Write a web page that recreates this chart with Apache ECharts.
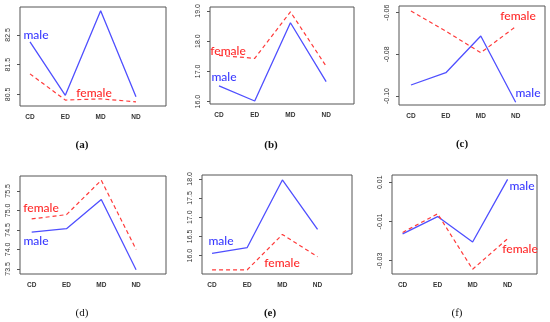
<!DOCTYPE html>
<html><head><meta charset="utf-8">
<script src="https://cdn.jsdelivr.net/npm/echarts@6/dist/echarts.min.js"></script>
<style>html,body{margin:0;padding:0;background:#fff}#c{width:550px;height:322px}</style>
</head><body><div id="c"></div>
<script>
const categories = ['CD', 'ED', 'MD', 'ND'];
const maleA = [82.27, 80.47, 83.31, 80.42];
const femaleA = [81.19, 80.31, 80.35, 80.25];
const maleB = [16.52, 16.02, 18.61, 16.66];
const femaleB = [17.53, 17.43, 18.97, 17.17];
const maleC = [-0.0947, -0.0888, -0.0712, -0.1030];
const femaleC = [-0.0592, -0.0689, -0.0792, -0.0667];
const maleD = [74.44, 74.53, 75.28, 73.48];
const femaleD = [74.78, 74.89, 75.77, 74.00];
const maleE = [16.06, 16.21, 17.97, 16.68];
const femaleE = [15.63, 15.63, 16.55, 15.97];
const maleF = [-0.0163, -0.0075, -0.0205, 0.0115];
const femaleF = [-0.0156, -0.0061, -0.0344, -0.0188];
const ticksA = [80.5, 81.5, 82.5];
const ticksB = [16, 17, 18, 19];
const ticksC = [-0.10, -0.08, -0.06];
const ticksD = [73.5, 74.0, 74.5, 75.0, 75.5];
const ticksE = [16.0, 16.5, 17.0, 17.5, 18.0];
const ticksF = [-0.03, -0.01, 0.01];
const captions = ['(a)', '(b)', '(c)', '(d)', '(e)', '(f)'];

const panels = [
  {male: maleA, female: femaleA, ticks: ticksA, dec: 1, grid: {left: 20, top: 7, width: 146, height: 99}, x: [0.717, 4.85], y: [80.11, 83.44],
   mLab: [36, 35], fLab: [94, 93], cap: [82, 145], bold: true},
  {male: maleB, female: femaleB, ticks: ticksB, dec: 1, grid: {left: 210, top: 7, width: 144, height: 97}, x: [0.748, 4.78], y: [15.92, 19.13],
   mLab: [224, 77], fLab: [228, 51], cap: [271, 145], bold: true},
  {male: maleC, female: femaleC, ticks: ticksC, dec: 2, grid: {left: 399, top: 6, width: 146, height: 99}, x: [0.657, 4.84], y: [-0.1043, -0.0568],
   mLab: [528, 93], fLab: [518, 16], cap: [462, 144], bold: true},
  {male: maleD, female: femaleD, ticks: ticksD, dec: 1, grid: {left: 20, top: 176, width: 146, height: 98}, x: [0.664, 4.86], y: [73.37, 75.88],
   mLab: [36, 241], fLab: [41, 208], cap: [82, 313], bold: false},
  {male: maleE, female: femaleE, ticks: ticksE, dec: 1, grid: {left: 202, top: 175, width: 150, height: 99}, x: [0.714, 4.98], y: [15.52, 18.10],
   mLab: [221, 241], fLab: [282, 263], cap: [270, 313], bold: true},
  {male: maleF, female: femaleF, ticks: ticksF, dec: 2, grid: {left: 392, top: 175, width: 145, height: 99}, x: [0.697, 4.84], y: [-0.0368, 0.0137],
   mLab: [522, 186], fLab: [520, 249], cap: [457, 313], bold: false}
];

const blue = '#4f4fff', red = '#ff3a3a';
const grids = [], xAxes = [], yAxes = [], series = [], graphics = [];
const catIdx = categories.map((c, i) => i + 1);
panels.forEach((p, k) => {
  grids.push(Object.assign({show: true, borderColor: '#555', borderWidth: 1, backgroundColor: 'transparent'}, p.grid));
  xAxes.push({type: 'value', gridIndex: k, min: p.x[0], max: p.x[1],
    axisLine: {show: false}, splitLine: {show: false},
    axisTick: {show: false},
    axisLabel: {customValues: catIdx, formatter: v => categories[Math.round(v) - 1] || '',
      fontSize: 6.5, color: '#333', fontFamily: 'Liberation Sans, Arial', fontWeight: 'bold', margin: 8}});
  yAxes.push({type: 'value', gridIndex: k, min: p.y[0], max: p.y[1],
    axisLine: {show: false}, splitLine: {show: false},
    axisTick: {show: true, customValues: p.ticks, length: 3, lineStyle: {color: '#555'}},
    axisLabel: {customValues: p.ticks, formatter: v => Number(v).toFixed(p.dec), rotate: 90,
      fontSize: 7, color: '#333', fontFamily: 'Liberation Sans, Arial', margin: 8}});
  series.push({type: 'line', xAxisIndex: k, yAxisIndex: k, symbol: 'none', silent: true,
    data: p.male.map((v, i) => [catIdx[i], v]), lineStyle: {color: blue, width: 1.3}});
  series.push({type: 'line', xAxisIndex: k, yAxisIndex: k, symbol: 'none', silent: true,
    data: p.female.map((v, i) => [catIdx[i], v]), lineStyle: {color: red, width: 1.2, type: [4, 3]}});
  graphics.push({type: 'text', style: {x: p.mLab[0], y: p.mLab[1], text: 'male', fill: '#3a3aff', font: '500 12px Lato, sans-serif', align: 'center', verticalAlign: 'middle'}});
  graphics.push({type: 'text', style: {x: p.fLab[0], y: p.fLab[1], text: 'female', fill: '#ff2a2a', font: '500 12px Lato, sans-serif', align: 'center', verticalAlign: 'middle'}});
  graphics.push({type: 'text', style: {x: p.cap[0], y: p.cap[1], text: captions[k], fill: '#111', font: (p.bold ? 'bold ' : '') + '11px "Liberation Serif", "DejaVu Serif", serif', align: 'center', verticalAlign: 'middle'}});
});

const chart = echarts.init(document.getElementById('c'), null, {renderer: 'canvas'});
chart.setOption({animation: false, grid: grids, xAxis: xAxes, yAxis: yAxes, series: series, graphic: graphics});
</script></body></html>
